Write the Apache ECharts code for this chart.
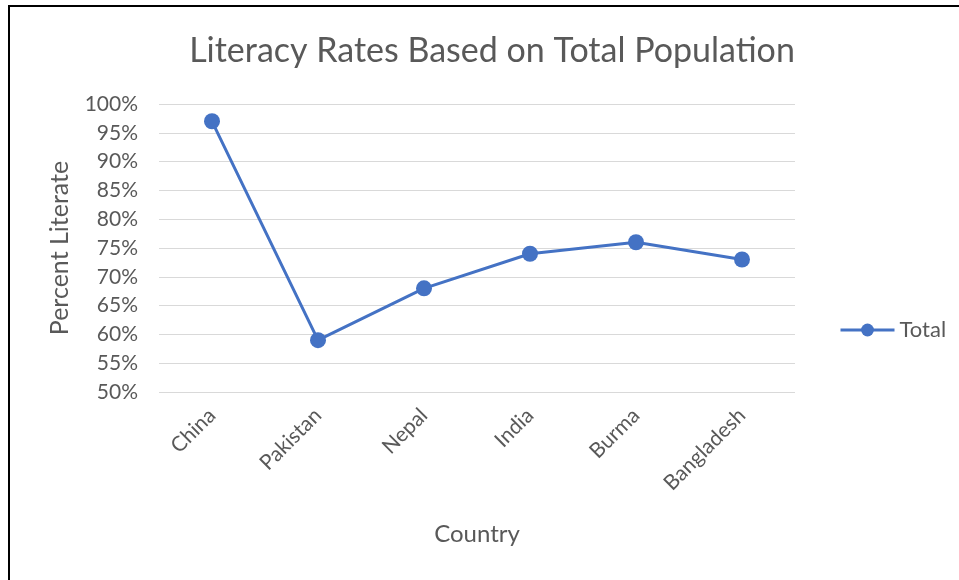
<!DOCTYPE html>
<html><head><meta charset="utf-8">
<script src="https://cdn.jsdelivr.net/npm/echarts@6/dist/echarts.min.js"></script>
<style>html,body{margin:0;padding:0;background:#fff}#c{width:959px;height:580px}</style>
</head><body><div id="c"></div>
<script>
const categories = ["China", "Pakistan", "Nepal", "India", "Burma", "Bangladesh"];
const totalValues = [97, 59, 68, 74, 76, 73];
const seriesName = "Total";
const titleText = "Literacy Rates Based on Total Population";
const yAxisName = "Percent Literate";
const xAxisName = "Country";

const FONT = "Lato, 'Open Sans', sans-serif";
const TXT = "#595959";
const chart = echarts.init(document.getElementById('c'), null, {renderer: 'canvas'});
chart.setOption({
  animation: false,
  backgroundColor: '#fff',
  title: {
    text: titleText, left: 487, top: 29, textAlign: 'center',
    textStyle: {fontFamily: FONT, fontSize: 34, fontWeight: 'normal', color: TXT}
  },
  grid: {left: 159, right: 164, top: 104, bottom: 188, containLabel: false},
  legend: {
    data: [seriesName], left: 834, top: 314, itemWidth: 54, itemHeight: 16, itemGap: 5,
    lineStyle: {width: 3, color: '#4472C4'},
    textStyle: {fontFamily: FONT, fontSize: 22, color: TXT, padding: [0,0,0,0]}
  },
  xAxis: {
    type: 'category', data: categories, boundaryGap: true,
    axisLine: {show: false}, axisTick: {show: false},
    axisLabel: {rotate: 45, color: TXT, fontFamily: FONT, fontSize: 21, margin: 20},
    name: xAxisName, nameLocation: 'middle', nameGap: 130,
    nameTextStyle: {fontFamily: FONT, fontSize: 24, color: TXT}
  },
  yAxis: {
    type: 'value', min: 50, max: 100, interval: 5,
    axisLine: {show: false}, axisTick: {show: false},
    splitLine: {lineStyle: {color: '#d9d9d9', width: 1}},
    axisLabel: {formatter: '{value}%', color: TXT, fontFamily: FONT, fontSize: 21, margin: 21},
    name: yAxisName, nameLocation: 'middle', nameGap: 87,
    nameTextStyle: {fontFamily: FONT, fontSize: 25, color: TXT}
  },
  series: [{
    name: seriesName, type: 'line', data: totalValues,
    symbol: 'circle', symbolSize: 16,
    lineStyle: {color: '#4472C4', width: 3},
    itemStyle: {color: '#4472C4'}
  }],
  graphic: [
    {type: 'line', shape: {x1: 9, y1: 6, x2: 959, y2: 6}, style: {stroke: '#000', lineWidth: 2}},
    {type: 'line', shape: {x1: 9, y1: 5, x2: 9, y2: 580}, style: {stroke: '#000', lineWidth: 2}}
  ]
});
</script></body></html>
